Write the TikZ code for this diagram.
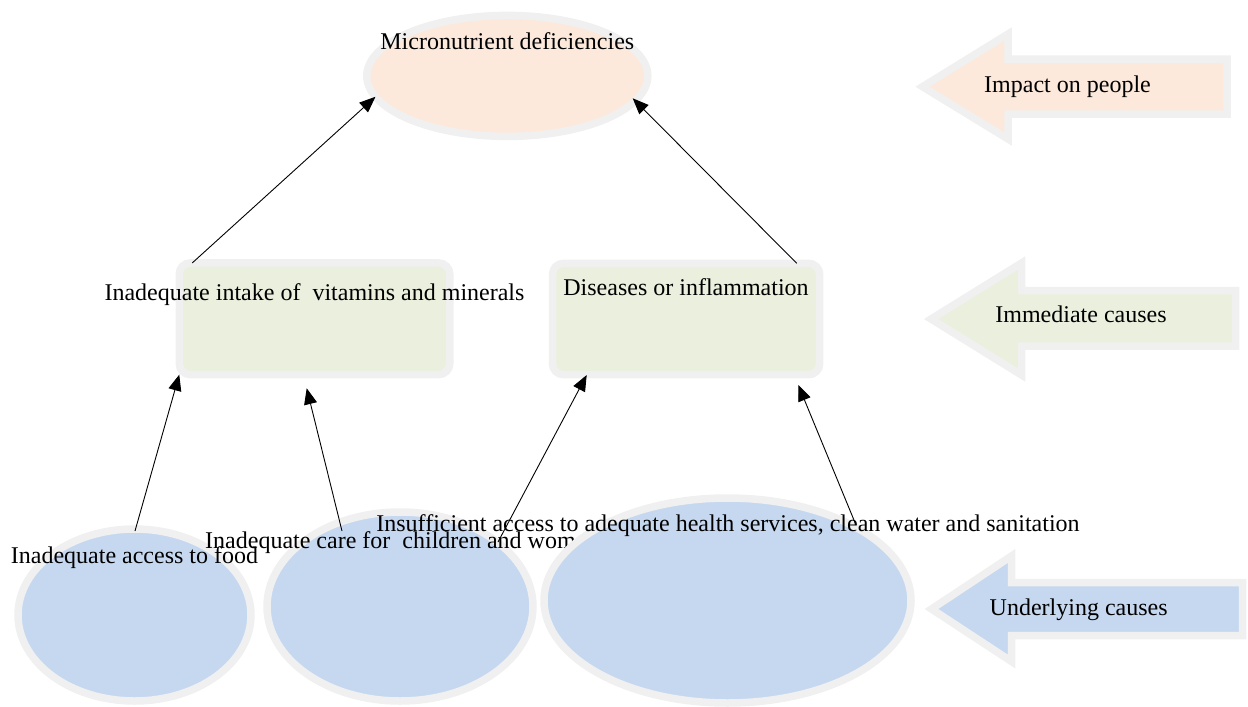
\documentclass[tikz,border=0pt]{standalone}
\usepackage{fontspec}
\setmainfont{Liberation Serif}
\usetikzlibrary{arrows.meta,shapes.geometric,calc}
\definecolor{bord}{HTML}{F0F0F0}
\definecolor{peach}{HTML}{FCE9DB}
\definecolor{mygreen}{HTML}{EAF0DD}
\definecolor{myblue}{HTML}{C6D8F0}
\begin{document}
\begin{tikzpicture}[x=1pt,y=-1pt,
  shp/.style={draw=bord,line width=7.5pt,outer sep=0pt,inner sep=0pt},
  ell/.style={shp,ellipse},
  box/.style={shp,rectangle,rounded corners=11pt,fill=mygreen},
  lbl/.style={font=\fontsize{24}{28}\selectfont,inner sep=0pt,anchor=base,text=black},
  conn/.style={draw=black,line width=0.9pt,-{Triangle[length=16pt,width=13pt]}},
  side/.style={draw=bord,line width=7.5pt,line join=miter}
]
\useasboundingbox (0,0) rectangle (1248,707);

% side arrows
\path[side,fill=peach] (922.5,86.7) -- (1008,34) -- (1008,59) -- (1227,59) -- (1227,114) -- (1008,114) -- (1008,139) -- cycle;
\path[side,fill=mygreen] (931,319) -- (1021.5,263) -- (1021.5,290.5) -- (1235.5,290.5) -- (1235.5,346) -- (1021.5,346) -- (1021.5,375) -- cycle;
\path[side,fill=myblue] (931.5,609) -- (1011.5,556) -- (1011.5,582.5) -- (1242.5,582.5) -- (1242.5,635.5) -- (1011.5,635.5) -- (1011.5,661.5) -- cycle;
\node[lbl] (timp) at (1067.5,92.7) {Impact on people};
\node[lbl] (timm) at (1081,322.7) {Immediate causes};
\node[lbl] (tund) at (1078.7,615) {Underlying causes};

% top ellipse
\node[ell,fill=peach,minimum width=281pt,minimum height=121pt] (mic) at (507.3,75.9) {};
\node[lbl] (tmic) at (507.3,49) {Micronutrient deficiencies};

% boxes
\node[box,minimum width=270.5pt,minimum height=111.7pt] (b1) at (314.5,318.8) {};
\node[lbl] (tb1) at (314.5,300) {Inadequate intake of\ \ vitamins and minerals};
\node[box,minimum width=267.2pt,minimum height=111.4pt] (b2) at (686.1,319) {};
\node[lbl] (tb2) at (686,295) {Diseases or inflammation};

% bottom ellipses
\node[ell,fill=myblue,minimum width=233pt,minimum height=172pt] (e1) at (134.5,615) {};
\node[lbl] (te1) at (134.5,563) {Inadequate access to food};
\node[ell,fill=myblue,minimum width=266pt,minimum height=189pt] (e2) at (400,606.5) {};
\node[lbl,anchor=base west] (te2) at (205,548) {Inadequate care for\ \ children and women};
\node[ell,fill=myblue,minimum width=367pt,minimum height=205pt] (e3) at (727.5,600.5) {};
\node[lbl] (te3) at (728,531) {Insufficient access to adequate health services, clean water and sanitation};

% connectors
\coordinate (s3) at (135,531);
\coordinate (s4) at (342,531);
\coordinate (s5) at (498,542);
\coordinate (s6) at (856,525);
\draw[conn] ($(b1.north west)+(13,0)$) -- (mic.189.7);
\draw[conn] ($(b2.north east)+(-23,0)$) -- ($(mic.center)+(125.4,22.4)$);
\draw[conn] (s3) -- (b1.south west);
\draw[conn] (s4) -- ($(b1.south)+(-7.8,13.6)$);
\draw[conn] (s5) -- ($(b2.south west)+(34.2,0.3)$);
\draw[conn] (s6) -- ($(b2.south east)+(-21.4,10.3)$);
\end{tikzpicture}
\end{document}
